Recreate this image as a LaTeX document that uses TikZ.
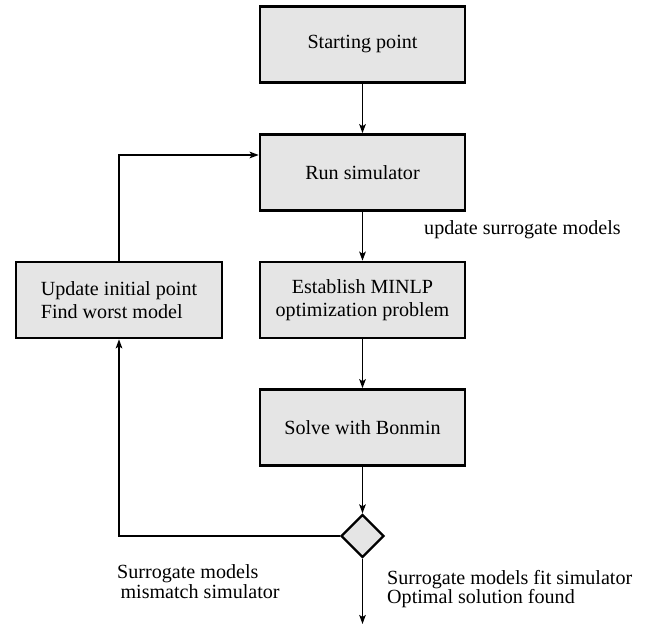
\documentclass[tikz,border=0pt]{standalone}
\usepackage{fontspec}
\setmainfont{Liberation Serif}
\usetikzlibrary{arrows.meta,shapes.geometric}
\begin{document}
\begin{tikzpicture}[x=1pt,y=-1pt,
  font=\fontsize{20.1}{23}\selectfont,
  stepbox/.style={draw,line width=2.6pt,fill=black!10,minimum width=205pt,minimum height=76pt,inner sep=0pt,align=center},
  choice/.style={diamond,draw,line width=2.2pt,fill=black!10,minimum width=43pt,minimum height=43pt,inner sep=0pt},
  flow/.style={line width=1.9pt,-{Stealth[length=9pt,width=6.5pt,inset=2pt]}},
  lbl/.style={align=left,inner sep=0pt}]
\useasboundingbox (0,0) rectangle (654,628);
\node[stepbox] (start) at (362.5,44.5) {Starting point};
\node[stepbox] (run) at (362.5,172.5) {Run simulator};
\node[stepbox] (minlp) at (362.5,300) {Establish MINLP\\optimization problem};
\node[stepbox] (solve) at (362.5,427.5) {Solve with Bonmin};
\node[stepbox,minimum width=206pt,align=left] (upd) at (119,300) {Update initial point\\Find worst model};
\node[choice] (dec) at (362.5,536) {};
\coordinate (end) at (362.5,624);
\coordinate (upcorner) at (119,155);
\coordinate (lowcorner) at (119,536);

\draw[flow] (start) -- (run);
\draw[flow] (run) -- (minlp);
\draw[flow] (minlp) -- (solve);
\draw[flow] (solve) -- (dec);
\draw[flow] (dec) -- (end);
\draw[flow] (upd.north -| upcorner) -- (upcorner) -- (run.west |- upcorner);
\draw[flow] (dec.west) -- (lowcorner) -- (upd.south -| lowcorner);

\node[lbl,anchor=base west] (lblupd) at (424,235) {update surrogate models};
\node[lbl,anchor=base west,font=\fontsize{20.1}{20}\selectfont] (lblmis) at (117,598) {Surrogate models\\\,mismatch simulator};
\node[lbl,anchor=base west,font=\fontsize{20.1}{19}\selectfont] (lblfit) at (387,603) {Surrogate models fit simulator\\Optimal solution found};
\end{tikzpicture}
\end{document}
